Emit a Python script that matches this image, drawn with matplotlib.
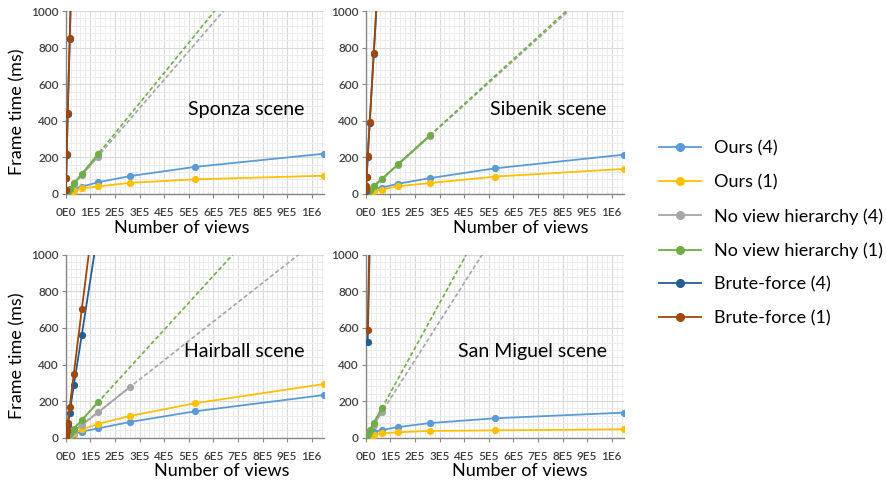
import matplotlib
matplotlib.use('Agg')
import matplotlib.pyplot as plt
from matplotlib.ticker import MultipleLocator, FixedLocator
from matplotlib.lines import Line2D
import numpy as np

plt.rcParams['font.family'] = ['Lato', 'DejaVu Sans']

nan = float('nan')

# ---------------- data ----------------
views = [1024, 2048, 4096, 8192, 16384, 32768, 65536, 131072, 262144, 524288, 1048576]

series_names = ["Ours (4)", "Ours (1)", "No view hierarchy (4)",
                "No view hierarchy (1)", "Brute-force (4)", "Brute-force (1)"]
series_colors = ['#5B9BD5', '#FFC000', '#A5A5A5', '#70AD47', '#255E91', '#9E480E']
trend_series = [2, 3]   # series with a dashed linear trendline

sponza_ours4 = [3, 5, 9, 14, 20, 28, 40, 64, 98, 148, 220]
sponza_ours1 = [2, 3, 5, 8, 11, 16, 31, 41, 61, 80, 100]
sponza_nvh4 = [2, 4, 7, 13, 26, 52, 105, 204, nan, nan, nan]
sponza_nvh1 = [2, 4, 8, 14, 28, 58, 109, 217, nan, nan, nan]
sponza_bf4 = [20, 88, 215, 435, 845, 1690, nan, nan, nan, nan, nan]
sponza_bf1 = [22, 90, 220, 440, 850, 1700, nan, nan, nan, nan, nan]

sibenik_ours4 = [3, 5, 8, 12, 18, 26, 35, 56, 87, 140, 215]
sibenik_ours1 = [2, 3, 5, 8, 11, 16, 24, 42, 60, 95, 137]
sibenik_nvh4 = [1, 3, 5, 10, 21, 43, 81, 160, 318, nan, nan]
sibenik_nvh1 = [1, 3, 6, 11, 22, 45, 82, 162, 322, nan, nan]
sibenik_bf4 = [18, 43, 93, 200, 390, 765, 1530, nan, nan, nan, nan]
sibenik_bf1 = [20, 45, 95, 205, 395, 770, 1540, nan, nan, nan, nan]

hairball_ours4 = [1, 2, 4, 8, 14, 22, 33, 51, 86, 144, 233]
hairball_ours1 = [1, 2, 5, 9, 15, 25, 45, 75, 119, 188, 293]
hairball_nvh4 = [1, 3, 5, 10, 18, 36, 70, 138, 278, nan, nan]
hairball_nvh1 = [2, 3, 7, 13, 25, 49, 96, 194, nan, nan, nan]
hairball_bf4 = [10, 20, 35, 68, 135, 286, 563, 1130, nan, nan, nan]
hairball_bf1 = [12, 22, 42, 82, 169, 348, 703, 1400, nan, nan, nan]

sanmiguel_ours4 = [3, 5, 9, 14, 20, 30, 42, 58, 80, 106, 137]
sanmiguel_ours1 = [2, 3, 5, 8, 11, 17, 24, 30, 37, 40, 46]
sanmiguel_nvh4 = [2, 5, 9, 18, 36, 72, 138, nan, nan, nan, nan]
sanmiguel_nvh1 = [3, 5, 10, 20, 40, 82, 160, nan, nan, nan, nan]
sanmiguel_bf4 = [nan, nan, nan, 525, 1050, nan, nan, nan, nan, nan, nan]
sanmiguel_bf1 = [nan, nan, nan, 590, 1180, nan, nan, nan, nan, nan, nan]

scene_titles = ["Sponza scene", "Sibenik scene", "Hairball scene", "San Miguel scene"]
scene_data = [
    [sponza_ours4, sponza_ours1, sponza_nvh4, sponza_nvh1, sponza_bf4, sponza_bf1],
    [sibenik_ours4, sibenik_ours1, sibenik_nvh4, sibenik_nvh1, sibenik_bf4, sibenik_bf1],
    [hairball_ours4, hairball_ours1, hairball_nvh4, hairball_nvh1, hairball_bf4, hairball_bf1],
    [sanmiguel_ours4, sanmiguel_ours1, sanmiguel_nvh4, sanmiguel_nvh1, sanmiguel_bf4, sanmiguel_bf1],
]

x_tick_values = [0, 100000, 200000, 300000, 400000, 500000, 600000, 700000, 800000, 900000, 1000000]
x_tick_labels = ["0E0", "1E5", "2E5", "3E5", "4E5", "5E5", "6E5", "7E5", "8E5", "9E5", "1E6"]
y_tick_values = [0, 200, 400, 600, 800, 1000]

# ---------------- layout ----------------
W, H = 887, 482
fig = plt.figure(figsize=(W / 100, H / 100), dpi=100)

def px_axes(left, top, right, bottom):
    return fig.add_axes([left / W, 1 - bottom / H, (right - left) / W, (bottom - top) / H])

axes_boxes = [(65.7, 11, 323.7, 194), (365.7, 11, 623.7, 194),
              (65.7, 254.7, 323.7, 437.7), (365.7, 254.7, 623.7, 437.7)]
title_pos = [(0.927, 0.432), (0.934, 0.432), (0.927, 0.443), (0.934, 0.443)]
xlabel_pos = [0.45, 0.60, 0.606, 0.596]

tick_color = '#404040'
spine_color = '#868686'

for i, box in enumerate(axes_boxes):
    ax = px_axes(*box)
    data = scene_data[i]
    xs = np.array(views, dtype=float)
    # trendlines (behind)
    for s in trend_series:
        ys = np.array(data[s], dtype=float)
        m = ~np.isnan(ys)
        k, b = np.polyfit(xs[m], ys[m], 1)
        xx = np.array([0, views[-1]], dtype=float)
        ax.plot(xx, k * xx + b, color=series_colors[s], lw=1.2,
                linestyle=(0, (2.5, 1.5)), zorder=2)
    for s, ys in enumerate(data):
        ys = np.array(ys, dtype=float)
        m = ~np.isnan(ys)
        ax.plot(xs[m], ys[m], color=series_colors[s], lw=1.3, marker='o',
                markersize=4.2, zorder=3 + s)

    ax.set_xlim(0, views[-1])
    ax.set_ylim(0, 1000)
    ax.xaxis.set_major_locator(FixedLocator(x_tick_values))
    ax.set_xticklabels(x_tick_labels)
    ax.xaxis.set_minor_locator(MultipleLocator(20000))
    ax.yaxis.set_major_locator(FixedLocator(y_tick_values))
    ax.yaxis.set_minor_locator(MultipleLocator(40))
    ax.grid(which='major', color='#d9d9d9', lw=0.8, zorder=0)
    ax.grid(which='minor', color='#ececec', lw=0.7, zorder=0)
    ax.set_axisbelow(True)
    for sp in ['top', 'right']:
        ax.spines[sp].set_visible(False)
    for sp in ['left', 'bottom']:
        ax.spines[sp].set_color(spine_color)
        ax.spines[sp].set_linewidth(1.0)
    ax.tick_params(which='major', direction='out', length=3, width=0.8,
                   color=spine_color, labelcolor=tick_color, labelsize=8.5)
    ax.tick_params(axis='x', which='major', pad=6.5)
    ax.tick_params(axis='y', which='major', pad=2)
    for lab in ax.get_xticklabels() + ax.get_yticklabels():
        lab.set_fontweight('semibold')
    ax.tick_params(which='minor', length=0)
    ax.set_xlabel("Number of views", fontsize=13, color='#000000')
    ax.xaxis.set_label_coords(xlabel_pos[i], -0.14)
    if i % 2 == 0:
        ax.set_ylabel("Frame time (ms)", fontsize=13, color='#000000')
        ax.yaxis.set_label_coords(-0.157, 0.45)
    ax.text(title_pos[i][0], title_pos[i][1], scene_titles[i], transform=ax.transAxes,
            ha='right', va='baseline', fontsize=14, color='#000000', zorder=20)

handles = [Line2D([0], [0], color=c, lw=1.3, marker='o', markersize=5.5) for c in series_colors]
fig.legend(handles, series_names, loc='center left', bbox_to_anchor=(659 / W, 1 - 233.5 / H),
           frameon=False, fontsize=13, handlelength=2.3, handletextpad=0.72,
           labelspacing=0.98, borderaxespad=0, borderpad=0)

fig.savefig('out.png', dpi=100)
